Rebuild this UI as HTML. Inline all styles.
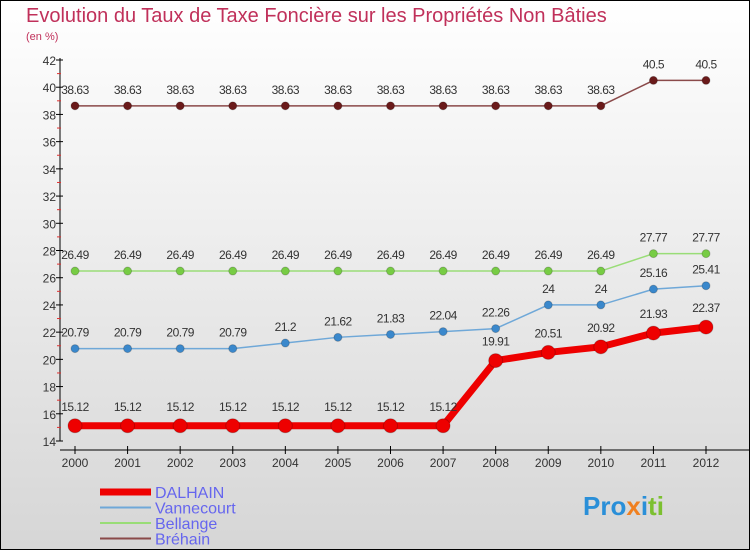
<!DOCTYPE html>
<html><head><meta charset="utf-8"><style>
body{margin:0;}
svg{display:block;font-family:"Liberation Sans",sans-serif;}
</style></head><body>
<svg id="c" width="750" height="550">
<defs><linearGradient id="bg" x1="0" y1="0" x2="0" y2="1"><stop offset="0" stop-color="#ffffff"/><stop offset="1" stop-color="#d6d6d6"/></linearGradient></defs>
<rect x="0.5" y="0.5" width="749" height="549" fill="url(#bg)" stroke="#000"/>
<text x="26" y="22" font-size="20" fill="#c0305a">Evolution du Taux de Taxe Foncière sur les Propriétés Non Bâties</text>
<text x="26" y="40" font-size="11" fill="#c0305a">(en %)</text>
<g id="plot"></g>
<g>
<text x="583" y="515" font-size="26" font-weight="bold" fill="#2a8fd8">Pro<tspan fill="#f08020">x</tspan><tspan fill="#2a8fd8">i</tspan><tspan fill="#7cc030">ti</tspan></text>
</g>
</svg>
<script>
const years=["2000","2001","2002","2003","2004","2005","2006","2007","2008","2009","2010","2011","2012"];
const dalhain=[15.12,15.12,15.12,15.12,15.12,15.12,15.12,15.12,19.91,20.51,20.92,21.93,22.37];
const vannecourt=[20.79,20.79,20.79,20.79,21.2,21.62,21.83,22.04,22.26,24,24,25.16,25.41];
const bellange=[26.49,26.49,26.49,26.49,26.49,26.49,26.49,26.49,26.49,26.49,26.49,27.77,27.77];
const brehain=[38.63,38.63,38.63,38.63,38.63,38.63,38.63,38.63,38.63,38.63,38.63,40.5,40.5];
const yTicks=[14,16,18,20,22,24,26,28,30,32,34,36,38,40,42];
const NS="http://www.w3.org/2000/svg";
const g=document.getElementById('plot');
function X(i){return 75+i*(706-75)/(years.length-1);}
function Y(v){return 441-(v-14)*(381/28);}
function el(t,a,p){const e=document.createElementNS(NS,t);for(const k in a)e.setAttribute(k,a[k]);(p||g).appendChild(e);return e;}
let ax=el('line',{x1:60,y1:58,x2:60,y2:441,stroke:'#000'});


let xa=el('line',{x1:60,y1:450,x2:750,y2:450,stroke:'#000'});


yTicks.forEach((v,i)=>{
 el('line',{x1:56,y1:Y(v),x2:63,y2:Y(v),stroke:'#000'});
 if(i<yTicks.length-1){el('line',{x1:57,y1:Y(v+1),x2:61,y2:Y(v+1),stroke:'#e03030'});}
 const t=el('text',{x:56,y:Y(v)+5,'font-size':12,fill:'#333','text-anchor':'end'});
 t.textContent=v;
 
 
});
years.forEach((y,i)=>{
 el('line',{x1:X(i),y1:446,x2:X(i),y2:454,stroke:'#000'});
 const t=el('text',{x:X(i),y:467,'font-size':12,fill:'#333','text-anchor':'middle'});
 t.textContent=y;
 
 
});
function series(data,name,color,dot,w,r){
 const s=el('g',{});
 
 
 el('polyline',{points:data.map((v,i)=>X(i)+','+Y(v)).join(' '),fill:'none',stroke:color,'stroke-width':w},s);
 data.forEach((v,i)=>{
  const c=el('circle',{cx:X(i),cy:Y(v),r:r,fill:dot,stroke:'#0003'},s);
  
  
  const t=el('text',{x:X(i),y:Y(v)-(r+8),'font-size':12,fill:'#333','text-anchor':'middle','letter-spacing':'-0.5'},s);
  t.textContent=v;
  
  
 });
}
series(brehain,'brehain','#8a4a4a','#6a1a1a',1.5,4);
series(bellange,'bellange','#99dd77','#77cc44',1.5,4);
series(vannecourt,'vannecourt','#6fa8d8','#3a88cc',1.5,4);
series(dalhain,'dalhain','#ee0000','#ee0000',7,7);
const leg=[["DALHAIN","#ee0000",7],["Vannecourt","#6fa8d8",2],["Bellange","#99dd77",2],["Bréhain","#8a4a4a",2]];
leg.forEach((l,i)=>{
 const y=492+i*15.5;
 const e=el('g',{});
 
 
 el('line',{x1:100,y1:y,x2:151,y2:y,stroke:l[1],'stroke-width':l[2]},e);
 const t=el('text',{x:155,y:y+6,'font-size':16,fill:'#6666ee'},e);
 t.textContent=l[0];
});
</script>
</body></html>
